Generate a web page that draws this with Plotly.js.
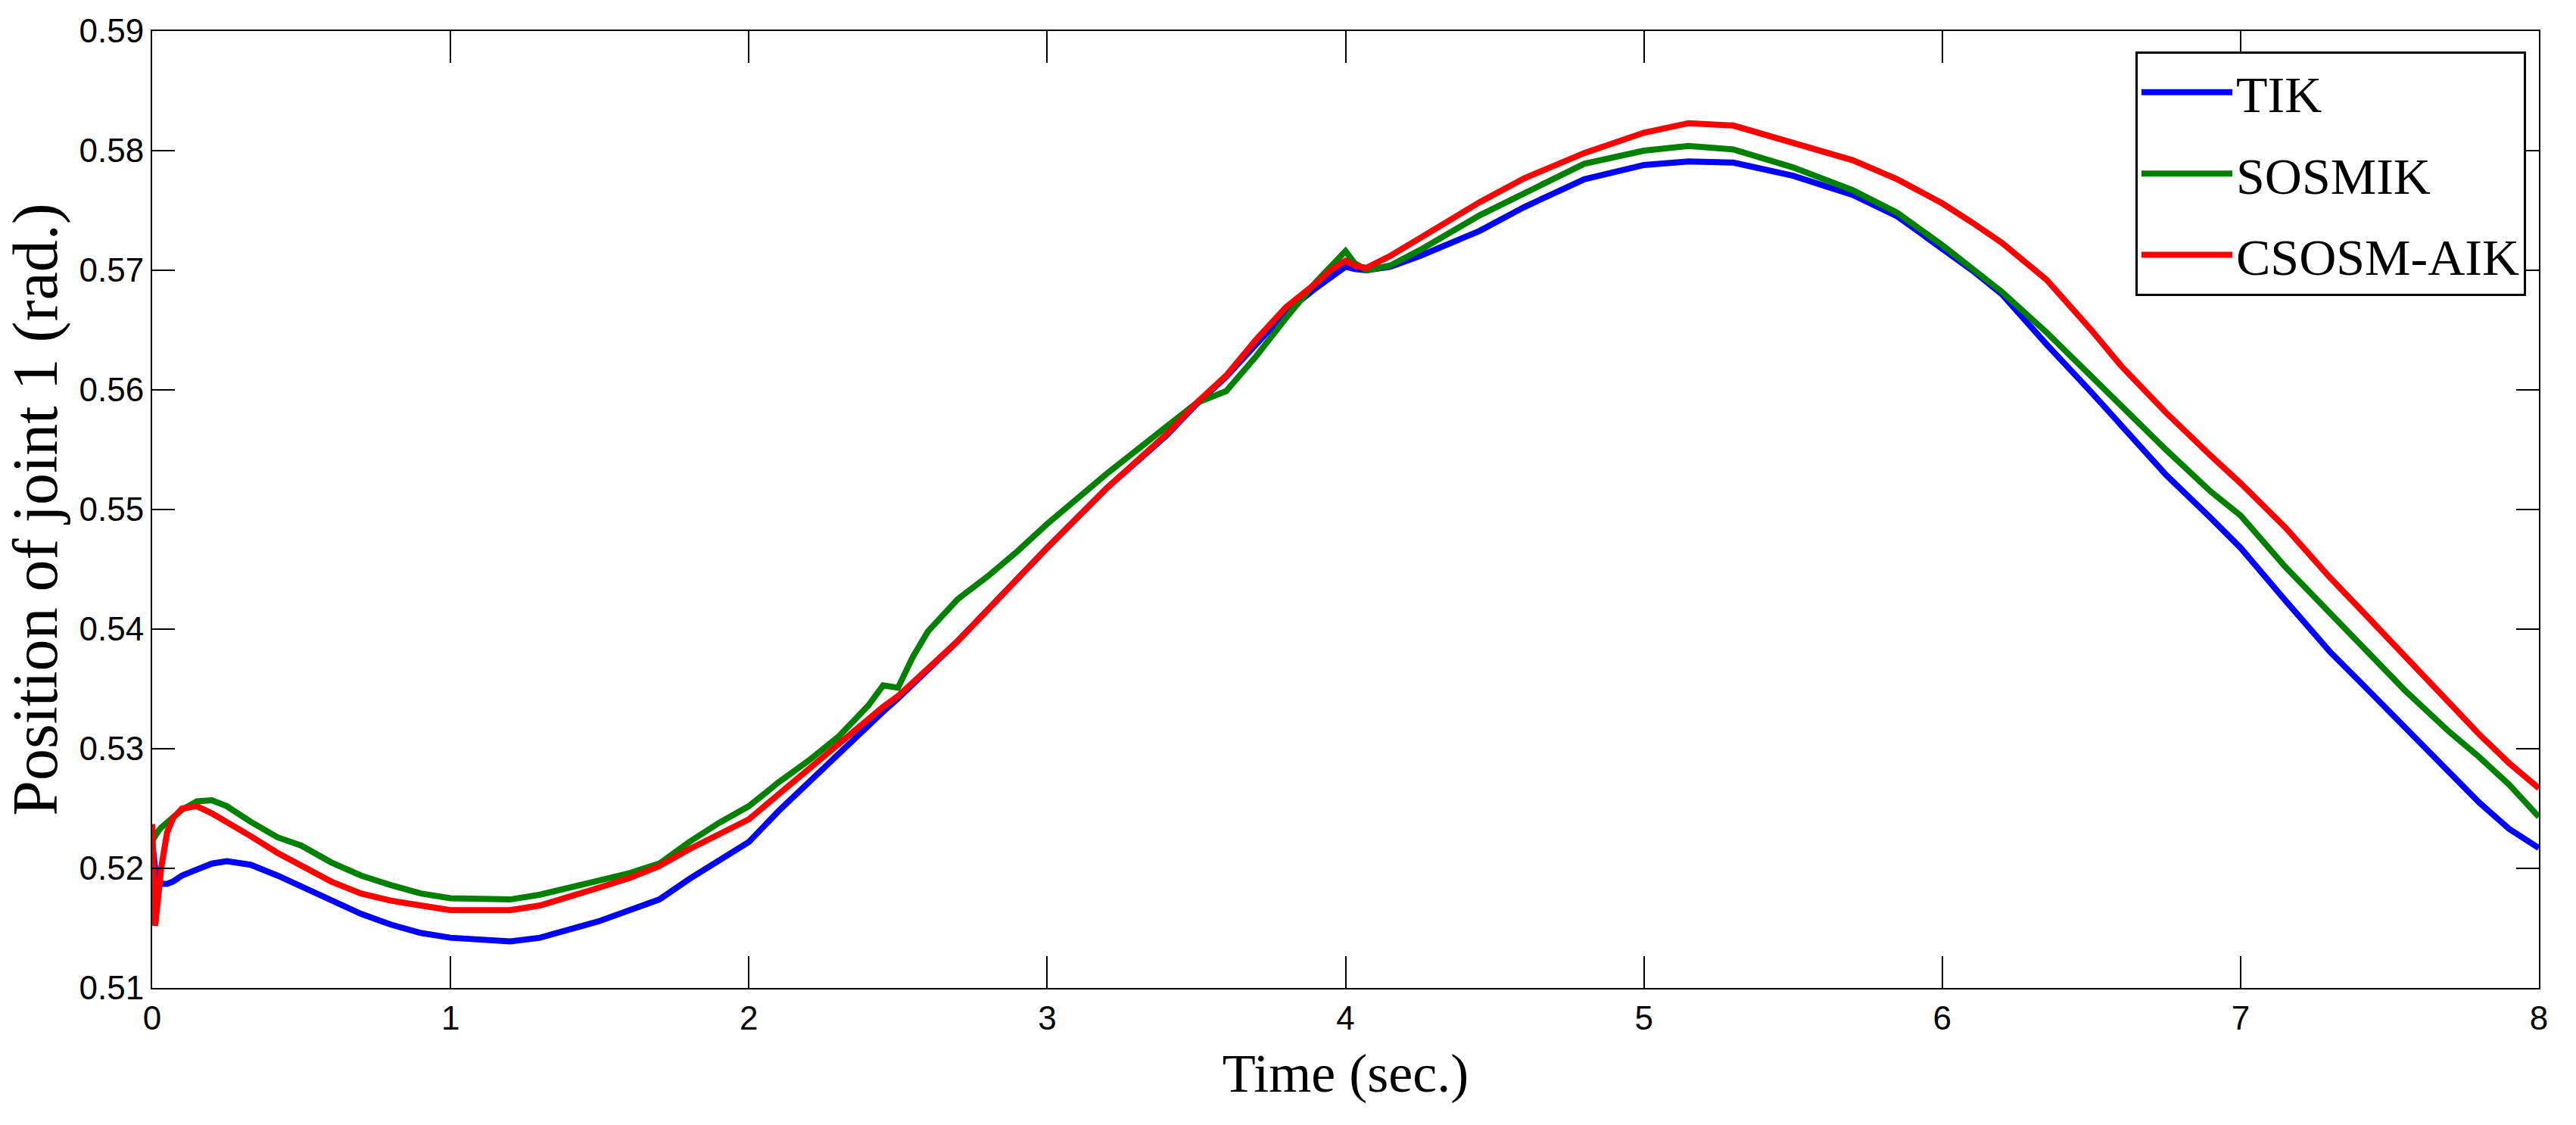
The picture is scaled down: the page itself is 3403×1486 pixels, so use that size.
<!DOCTYPE html>
<html>
<head>
<meta charset="utf-8">
<script src="https://cdn.plot.ly/plotly-3.0.1.min.js"></script>
<style>
  html, body { margin: 0; padding: 0; background: #ffffff; }
  #chart { width: 3403px; height: 1486px; }
</style>
</head>
<body>
<div id="chart"></div>
<script>
// Time (sec.)
var time = [0, 0.01, 0.02, 0.03, 0.05, 0.07, 0.1, 0.15, 0.2, 0.25, 0.33, 0.42, 0.5, 0.6, 0.7, 0.8, 0.9,
  1.0, 1.1, 1.2, 1.3, 1.4, 1.5, 1.6, 1.7, 1.8, 1.9, 2.0, 2.1, 2.2, 2.3, 2.4, 2.45, 2.5, 2.55, 2.6, 2.7, 2.8, 2.9,
  3.0, 3.2, 3.4, 3.5, 3.6, 3.7, 3.8, 3.9, 3.95, 4.0, 4.03, 4.07, 4.15, 4.25, 4.45, 4.6, 4.8,
  5.0, 5.15, 5.3, 5.5, 5.7, 5.85, 6.0, 6.1, 6.2, 6.35, 6.5, 6.6, 6.75, 6.9,
  7.0, 7.15, 7.3, 7.4, 7.55, 7.7, 7.8, 7.9, 8.0];

// TIK (blue)
var tik = [0.5222, 0.5200, 0.5190, 0.5187, 0.5187, 0.5189, 0.5194, 0.5199, 0.5204, 0.5206, 0.5203, 0.5194, 0.5185, 0.5174, 0.5162, 0.5153, 0.5146,
  0.5142, 0.5140, 0.5139, 0.5142, 0.5149, 0.5156, 0.5165, 0.5174, 0.5191, 0.5206, 0.5222, 0.5248, 0.5272, 0.5296, 0.5320, 0.5331, 0.5342, 0.5354, 0.5366, 0.5390, 0.5416, 0.5442,
  0.5468, 0.5518, 0.5562, 0.5588, 0.5611, 0.5638, 0.5665, 0.5685, 0.5694, 0.5703, 0.5701, 0.5700, 0.5703, 0.5712, 0.5733, 0.5753, 0.5776,
  0.5788, 0.5791, 0.5790, 0.5779, 0.5763, 0.5745, 0.5718, 0.5700, 0.5680, 0.5638, 0.5598, 0.5570, 0.5529, 0.5493,
  0.5468, 0.5424, 0.5381, 0.5356, 0.5318, 0.5280, 0.5255, 0.5233, 0.5217];

// SOSMIK (green)
var sosmik = [0.5223, 0.5228, 0.5231, 0.5234, 0.5238, 0.5243, 0.5249, 0.5256, 0.5257, 0.5252, 0.5239, 0.5226, 0.5219, 0.5205, 0.5194, 0.5186, 0.5179,
  0.5175, 0.5174, 0.5174, 0.5178, 0.5184, 0.5190, 0.5196, 0.5204, 0.5222, 0.5238, 0.5252, 0.5272, 0.5290, 0.5310, 0.5336, 0.5353, 0.5351, 0.5377, 0.5398, 0.5425, 0.5444, 0.5465,
  0.5488, 0.5530, 0.5569, 0.5589, 0.5599, 0.5628, 0.5660, 0.5690, 0.5703, 0.5716, 0.5706, 0.5700, 0.5704, 0.5717, 0.5746, 0.5765, 0.5789,
  0.5800, 0.5804, 0.5801, 0.5786, 0.5767, 0.5748, 0.5721, 0.5702, 0.5682, 0.5648, 0.5611, 0.5586, 0.5550, 0.5515,
  0.5495, 0.5452, 0.5414, 0.5388, 0.5349, 0.5314, 0.5293, 0.5270, 0.5243];

// CSOSM-AIK (red)
var csosmAik = [0.5237, 0.5152, 0.5175, 0.5200, 0.5230, 0.5242, 0.5250, 0.5252, 0.5246, 0.5239, 0.5227, 0.5213, 0.5202, 0.5189, 0.5179, 0.5173, 0.5169,
  0.5165, 0.5165, 0.5165, 0.5169, 0.5176, 0.5184, 0.5192, 0.5202, 0.5216, 0.5228, 0.5241, 0.5262, 0.5283, 0.5305, 0.5325, 0.5335, 0.5344, 0.5356, 0.5367, 0.5390, 0.5416, 0.5442,
  0.5468, 0.5518, 0.5563, 0.5589, 0.5612, 0.5642, 0.5669, 0.5689, 0.5700, 0.5708, 0.5704, 0.5702, 0.5712, 0.5727, 0.5757, 0.5777, 0.5798,
  0.5815, 0.5823, 0.5821, 0.5806, 0.5792, 0.5776, 0.5756, 0.5740, 0.5723, 0.5692, 0.5650, 0.5620, 0.5581, 0.5545,
  0.5522, 0.5485, 0.5443, 0.5417, 0.5377, 0.5337, 0.5312, 0.5288, 0.5267];

var seriesNames = ['TIK', 'SOSMIK', 'CSOSM-AIK'];
var seriesColors = ['#0000ff', '#008000', '#ff0000'];
var seriesValues = [tik, sosmik, csosmAik];

var xTicks = [0, 1, 2, 3, 4, 5, 6, 7, 8];
var yTicks = [0.51, 0.52, 0.53, 0.54, 0.55, 0.56, 0.57, 0.58, 0.59];

var traces = seriesValues.map(function (vals, i) {
  return {
    type: 'scatter',
    mode: 'lines',
    x: time,
    y: vals,
    name: seriesNames[i],
    legendgroup: 'g' + i,
    line: { color: seriesColors[i], width: 8 }
  };
});

var tickFont = { family: '"Liberation Sans", Arial, sans-serif', size: 44, color: '#000000' };
var serif = '"Liberation Serif", "Times New Roman", Times, serif';

var layout = {
  width: 3403,
  height: 1486,
  margin: { l: 201, r: 49, t: 41, b: 181 },
  paper_bgcolor: '#ffffff',
  plot_bgcolor: '#ffffff',
  showlegend: true,
  xaxis: {
    range: [0, 8],
    tickvals: xTicks,
    ticktext: xTicks.map(String),
    ticks: 'inside',
    ticklen: 42,
    tickwidth: 2,
    tickcolor: '#000000',
    showline: true,
    linecolor: '#000000',
    linewidth: 2,
    mirror: 'ticks',
    showgrid: false,
    zeroline: false,
    tickfont: tickFont,
    title: { text: 'Time (sec.)', font: { family: serif, size: 72, color: '#000000' }, standoff: 24 },
    automargin: false
  },
  yaxis: {
    range: [0.51, 0.59],
    tickvals: yTicks,
    ticktext: yTicks.map(function (v) { return v.toFixed(2); }),
    ticks: 'inside',
    ticklen: 30,
    tickwidth: 2,
    tickcolor: '#000000',
    showline: true,
    linecolor: '#000000',
    linewidth: 2,
    mirror: 'ticks',
    showgrid: false,
    zeroline: false,
    tickfont: tickFont,
    title: { text: 'Position of joint 1 (rad.)', font: { family: serif, size: 84, color: '#000000' }, standoff: 10 },
    automargin: false
  },
  legend: {
    x: 0.9946,
    y: 0.9786,
    xanchor: 'right',
    yanchor: 'top',
    bgcolor: '#ffffff',
    bordercolor: '#000000',
    borderwidth: 3,
    font: { family: serif, size: 68, color: '#000000' },
    traceorder: 'grouped',
    tracegroupgap: 16,
    itemwidth: 120
  }
};

Plotly.newPlot('chart', traces, layout, { displayModeBar: false, staticPlot: true });
</script>
</body>
</html>
